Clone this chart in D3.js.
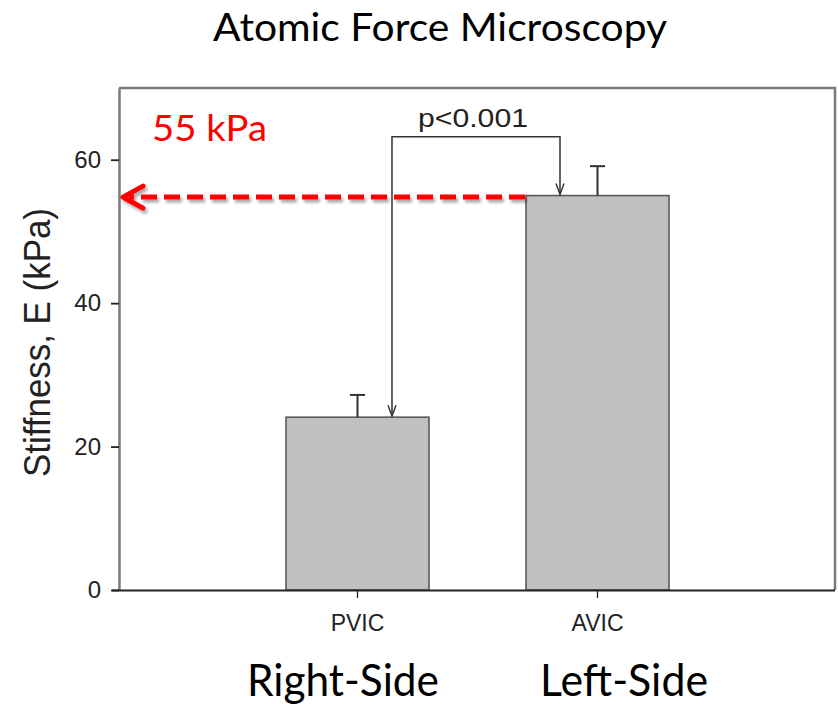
<!DOCTYPE html>
<html>
<head>
<meta charset="utf-8">
<script src="https://cdn.jsdelivr.net/npm/d3@7"></script>
<style>
  html, body { margin: 0; padding: 0; background: #fff; }
  svg { display: block; }
</style>
</head>
<body>
<svg id="chart" width="838" height="704"></svg>
<script>
// ---- data ----
const categories = ["PVIC", "AVIC"];
const sideLabels = ["Right-Side", "Left-Side"];
const means = [24.1, 55.0];
const errors = [3.1, 4.1];
const yTicks = [0, 20, 40, 60];
const yDomain = [0, 70];
const pLabel = "p<0.001";
const bracketLevel = 63.2;
const highlightValue = 55;
const highlightLabel = "55 kPa";
const title = "Atomic Force Microscopy";
const yTitle = "Stiffness, E (kPa)";

// ---- layout ----
const svg = d3.select("#chart");
const frame = { left: 119, right: 835, top: 88, bottom: 590 };

const y = d3.scaleLinear().domain(yDomain).range([frame.bottom, frame.top]);
const x = d3.scaleBand().domain(categories).range([286, 669]).paddingInner(0.4042).paddingOuter(0);
const bw = x.bandwidth();
const cx = c => x(c) + bw / 2;

const axisFont = "'Liberation Sans', Arial, Helvetica, sans-serif";
const caliFont = "Lato, 'Open Sans', sans-serif";

svg.append("rect").attr("width", 838).attr("height", 704).attr("fill", "#fff");

// defs: drop shadow
const defs = svg.append("defs");
const f = defs.append("filter").attr("id", "shadow")
  .attr("x", "-5%").attr("y", "-100%").attr("width", "110%").attr("height", "300%");
f.append("feDropShadow").attr("dx", 2).attr("dy", 3).attr("stdDeviation", 1.6)
  .attr("flood-color", "#000").attr("flood-opacity", 0.35);

// title
svg.append("text").attr("x", 440).attr("y", 41)
  .attr("text-anchor", "middle").attr("font-family", caliFont).attr("font-size", 38)
  .attr("textLength", 454).attr("lengthAdjust", "spacingAndGlyphs")
  .attr("fill", "#000").text(title);

// frame (top and right sides)
svg.append("path")
  .attr("d", `M${frame.left},${frame.top} H${frame.right} V${frame.bottom}`)
  .attr("fill", "none").attr("stroke", "#7a7a7a").attr("stroke-width", 2.5);

// bars
svg.append("g").selectAll("rect").data(categories).join("rect")
  .attr("x", d => x(d)).attr("width", bw)
  .attr("y", (d, i) => y(means[i])).attr("height", (d, i) => y(0) - y(means[i]))
  .attr("fill", "#c0c0c0").attr("stroke", "#5a5a5a").attr("stroke-width", 1.6);

// error bars (upper only)
const eb = svg.append("g").attr("stroke", "#333").attr("stroke-width", 2).attr("fill", "none");
categories.forEach((c, i) => {
  eb.append("line").attr("x1", cx(c)).attr("x2", cx(c))
    .attr("y1", y(means[i])).attr("y2", y(means[i] + errors[i]));
  eb.append("line").attr("x1", cx(c) - 7.5).attr("x2", cx(c) + 7.5)
    .attr("y1", y(means[i] + errors[i])).attr("y2", y(means[i] + errors[i]));
});

// y axis
const yAxis = svg.append("g").attr("transform", `translate(${frame.left},0)`)
  .call(d3.axisLeft(y).tickValues(yTicks).tickSize(8).tickPadding(10).tickSizeOuter(0));
yAxis.select(".domain").attr("stroke", "#7a7a7a").attr("stroke-width", 2.5);
yAxis.selectAll(".tick line").attr("stroke", "#222").attr("stroke-width", 1.8);
yAxis.selectAll(".tick text").attr("font-family", axisFont).attr("font-size", 24).attr("fill", "#222");

// x axis
const xAxis = svg.append("g").attr("transform", `translate(0,${frame.bottom})`)
  .call(d3.axisBottom(x).tickSize(8).tickPadding(17).tickSizeOuter(0));
xAxis.select(".domain").attr("d", `M${frame.left - 7},0.5H${frame.right}`)
  .attr("stroke", "#222").attr("stroke-width", 2);
xAxis.selectAll(".tick line").attr("stroke", "#222").attr("stroke-width", 1.3);
xAxis.selectAll(".tick text").attr("font-family", axisFont).attr("font-size", 23).attr("fill", "#222");

// significance bracket with arrows
const bx1 = cx(categories[0]) + 34.5;
const bx2 = cx(categories[1]) - 37.5;
const by = y(bracketLevel);
svg.append("path")
  .attr("d", `M${bx1},${y(means[0]) - 1} V${by} H${bx2} V${y(means[1]) - 1}`)
  .attr("fill", "none").attr("stroke", "#333").attr("stroke-width", 1.5)
  .attr("stroke-linejoin", "miter");
svg.append("path").attr("d", `M${bx1 - 4},${y(means[0]) - 12} L${bx1},${y(means[0]) - 1} L${bx1 + 4},${y(means[0]) - 12}`)
  .attr("fill", "none").attr("stroke", "#333").attr("stroke-width", 1.4);
svg.append("path").attr("d", `M${bx2 - 4},${y(means[1]) - 12} L${bx2},${y(means[1]) - 1} L${bx2 + 4},${y(means[1]) - 12}`)
  .attr("fill", "none").attr("stroke", "#333").attr("stroke-width", 1.4);
svg.append("text").attr("x", (bx1 + bx2) / 2 - 3).attr("y", by - 10)
  .attr("text-anchor", "middle").attr("font-family", axisFont).attr("font-size", 26)
  .attr("textLength", 110).attr("lengthAdjust", "spacingAndGlyphs")
  .attr("fill", "#222").text(pLabel);

// red dashed highlight arrow
const hy = y(highlightValue) + 1.5;
const tipX = frame.left + 4;
const red = svg.append("g").attr("filter", "url(#shadow)")
  .attr("stroke", "#ff0000").attr("stroke-width", 5).attr("fill", "none");
red.append("line").attr("x1", x(categories[1]) - 1).attr("x2", tipX + 6)
  .attr("y1", hy).attr("y2", hy)
  .attr("stroke-dasharray", "16,7");
red.append("path")
  .attr("d", `M${tipX + 20},${hy - 11} L${tipX},${hy} L${tipX + 20},${hy + 11}`)
  .attr("stroke-linecap", "round").attr("stroke-linejoin", "round");

svg.append("text").attr("x", 152).attr("y", 141)
  .attr("font-family", caliFont).attr("font-size", 37)
  .attr("textLength", 115).attr("lengthAdjust", "spacingAndGlyphs")
  .attr("fill", "#ff0000").text(highlightLabel);

// y axis title
svg.append("text")
  .attr("transform", `translate(50,342.5) rotate(-90)`)
  .attr("text-anchor", "middle").attr("font-family", axisFont).attr("font-size", 36)
  .attr("textLength", 269).attr("lengthAdjust", "spacingAndGlyphs")
  .attr("fill", "#222").text(yTitle);

// side labels under categories
const sideOffsets = [-14.5, 26.5];
const sideWidths = [192, 168];
svg.append("g").selectAll("text").data(sideLabels).join("text")
  .attr("x", (d, i) => cx(categories[i]) + sideOffsets[i])
  .attr("y", 696)
  .attr("text-anchor", "middle").attr("font-family", caliFont).attr("font-size", 44)
  .attr("textLength", (d, i) => sideWidths[i]).attr("lengthAdjust", "spacingAndGlyphs")
  .attr("fill", "#000").text(d => d);
</script>
</body>
</html>
